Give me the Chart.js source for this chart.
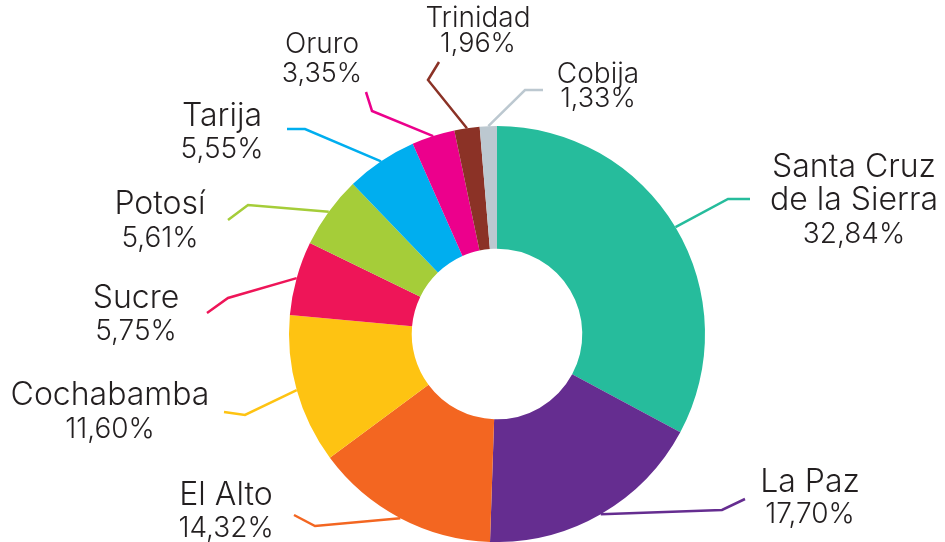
<!DOCTYPE html>
<html>
<head>
<meta charset="utf-8">
<script src="https://cdn.jsdelivr.net/npm/chart.js@4.4.0/dist/chart.umd.min.js"></script>
<style>
  html, body { margin: 0; padding: 0; background: #fff; }
  #wrap { width: 945px; height: 542px; }
</style>
</head>
<body>
<div id="wrap"><canvas id="chartCiudades"></canvas></div>
<script>
const categories = [['Santa Cruz', 'de la Sierra'], 'La Paz', 'El Alto', 'Cochabamba', 'Sucre', 'Potosí', 'Tarija', 'Oruro', 'Trinidad', 'Cobija'];
const values = [32.84, 17.70, 14.32, 11.60, 5.75, 5.61, 5.55, 3.35, 1.96, 1.33];
const colors = ['#26bc9c', '#652d90', '#f36621', '#fec312', '#ee1558', '#a5cd39', '#00aeef', '#ec008c', '#8b3226', '#bcc8d0'];

// where each label and its leader line sit (pixels)
const labelLayout = [
  { elbow: [728, 199], end: [750, 199], x: 854, y: 177, size: 32, pct: 28, lh: 33 },
  { elbow: [722, 510], end: [745, 499], x: 810, y: 492, size: 32, pct: 28, lh: 31 },
  { elbow: [315, 526], end: [294, 515], x: 226, y: 505, size: 32, pct: 28, lh: 32 },
  { elbow: [245, 415], end: [224, 412], x: 110, y: 405, size: 32, pct: 28, lh: 33 },
  { elbow: [228, 298], end: [207, 313], x: 136, y: 308, size: 32, pct: 28, lh: 32 },
  { elbow: [248, 205], end: [228, 220], x: 160, y: 214, size: 32, pct: 28, lh: 33 },
  { elbow: [305, 129], end: [287, 129], x: 222, y: 126, size: 32, pct: 28, lh: 32 },
  { elbow: [372, 111], end: [366, 92], x: 322, y: 53, size: 28, pct: 27, lh: 29 },
  { elbow: [428, 80], end: [439, 62], x: 478, y: 27, size: 28, pct: 27, lh: 25 },
  { elbow: [525, 90], end: [543, 90], x: 598, y: 83, size: 28, pct: 27, lh: 24 }
];

const leaders = {
  id: 'leaders',
  afterDatasetsDraw(chart) {
    const ctx = chart.ctx;
    const meta = chart.getDatasetMeta(0);
    ctx.save();
    meta.data.forEach((arc, i) => {
      const p = arc.getProps(['x', 'y', 'startAngle', 'endAngle', 'outerRadius'], true);
      const mid = (p.startAngle + p.endAngle) / 2;
      const lay = labelLayout[i];
      ctx.strokeStyle = colors[i];
      ctx.lineWidth = 2.5;
      ctx.beginPath();
      ctx.moveTo(p.x + Math.cos(mid) * p.outerRadius, p.y + Math.sin(mid) * p.outerRadius);
      ctx.lineTo(lay.elbow[0], lay.elbow[1]);
      ctx.lineTo(lay.end[0], lay.end[1]);
      ctx.stroke();

      const name = categories[i];
      const lines = (Array.isArray(name) ? name.slice() : [name]);
      ctx.fillStyle = '#231f20';
      ctx.textAlign = 'center';
      ctx.textBaseline = 'alphabetic';
      ctx.font = '300 ' + lay.size + 'px Inter, "Noto Sans", sans-serif';
      lines.forEach((t, k) => ctx.fillText(t, lay.x, lay.y + k * lay.lh));
      ctx.font = '300 ' + lay.pct + 'px Inter, "Noto Sans", sans-serif';
      ctx.fillText(values[i].toFixed(2).replace('.', ',') + '%', lay.x, lay.y + lines.length * lay.lh);
    });
    ctx.restore();
  }
};

new Chart(document.getElementById('chartCiudades'), {
  type: 'doughnut',
  data: {
    labels: categories,
    datasets: [{
      data: values,
      backgroundColor: colors,
      borderWidth: 0,
      hoverOffset: 0
    }]
  },
  options: {
    responsive: true,
    maintainAspectRatio: false,
    animation: false,
    cutout: '41%',
    layout: { padding: { left: 289, right: 240, top: 126, bottom: 0 } },
    plugins: {
      legend: { display: false },
      tooltip: { enabled: false }
    }
  },
  plugins: [leaders]
});
</script>
</body>
</html>
